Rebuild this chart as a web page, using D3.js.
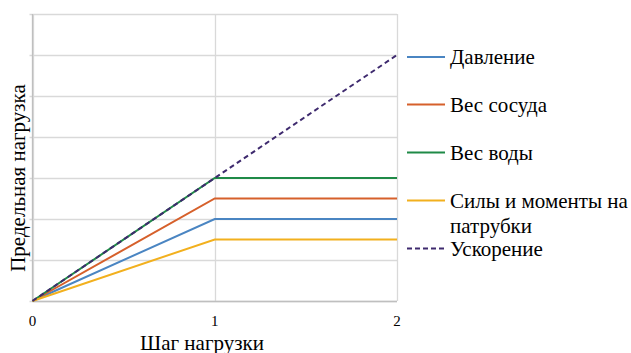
<!DOCTYPE html>
<html><head><meta charset="utf-8">
<script src="https://cdn.jsdelivr.net/npm/d3@7"></script>
<style>body{margin:0;background:#fff}svg{display:block}</style>
</head><body>
<svg id="c" width="631" height="353"></svg>
<script>
const steps = [0, 1, 2];
const xTicks = ["0", "1", "2"];
const seriesNames = ["Давление", "Вес сосуда", "Вес воды", "Силы и моменты на патрубки", "Ускорение"];
const pressure = [0, 2, 2];
const vesselWeight = [0, 2.5, 2.5];
const waterWeight = [0, 3, 3];
const nozzleLoads = [0, 1.5, 1.5];
const acceleration = [0, 3, 6];
const colors = ["#4a85c2", "#d6602b", "#1f8a47", "#f2b01e", "#3e2a6e"];
const yGrid = [0, 1, 2, 3, 4, 5, 6, 7];

const series = [pressure, vesselWeight, waterWeight, nozzleLoads, acceleration];
const svg = d3.select("#c");
const m = {l: 32.5, r: 397, t: 14, b: 301};
const x = d3.scaleLinear().domain([0, 2]).range([m.l, m.r]);
const y = d3.scaleLinear().domain([0, 7]).range([m.b, m.t]);
const font = "Liberation Serif, DejaVu Serif, serif";

// grid
svg.append("g").selectAll("line").data(yGrid).join("line")
  .attr("x1", m.l - 3).attr("x2", m.r).attr("y1", d => Math.round(y(d)) + 0.5).attr("y2", d => Math.round(y(d)) + 0.5)
  .attr("stroke", "#d9d9d9").attr("stroke-width", 1.3);
svg.append("g").selectAll("line").data(steps).join("line")
  .attr("x1", d => Math.round(x(d)) + 0.5).attr("x2", d => Math.round(x(d)) + 0.5).attr("y1", m.t).attr("y2", m.b)
  .attr("stroke", "#d9d9d9").attr("stroke-width", 1.3);
// axes
svg.append("line").attr("x1", m.l).attr("x2", m.l).attr("y1", m.t).attr("y2", m.b).attr("stroke", "#bfbfbf").attr("stroke-width", 1.3);
svg.append("line").attr("x1", m.l).attr("x2", m.r).attr("y1", m.b + 0.5).attr("y2", m.b + 0.5).attr("stroke", "#bfbfbf").attr("stroke-width", 1.3);

// tick labels
svg.append("g").selectAll("text").data(steps).join("text")
  .attr("x", d => x(d)).attr("y", 326).attr("text-anchor", "middle")
  .style("font-family", font).attr("font-size", 15).attr("fill", "#000")
  .text((d, i) => xTicks[i]);

// titles
svg.append("text").attr("x", 202).attr("y", 350).attr("text-anchor", "middle")
  .style("font-family", font).attr("font-size", 21).text("Шаг нагрузки");
svg.append("text").attr("transform", "translate(25,178) rotate(-90)").attr("text-anchor", "middle")
  .style("font-family", font).attr("font-size", 21).text("Предельная нагрузка");

// lines
const line = d3.line().x((d, i) => x(steps[i])).y(d => y(d));
series.forEach((s, k) => {
  svg.append("path").datum(s).attr("d", line)
    .attr("fill", "none").attr("stroke", colors[k]).attr("stroke-width", 2)
    .attr("stroke-dasharray", k === 4 ? "5,3.5" : null);
});

// legend
const legY = [57, 104.5, 152.5, 200.5, 248.5];
seriesNames.forEach((n, k) => {
  svg.append("line").attr("x1", 407).attr("x2", 445).attr("y1", legY[k]).attr("y2", legY[k])
    .attr("stroke", colors[k]).attr("stroke-width", 2).attr("stroke-dasharray", k === 4 ? "5,3" : null);
  const t = svg.append("text").attr("x", 450).attr("y", legY[k] + 7)
    .style("font-family", font).attr("font-size", 21).attr("fill", "#000");
  if (k === 3) {
    t.append("tspan").attr("x", 450).text("Силы и моменты на");
    t.append("tspan").attr("x", 450).attr("dy", 25).text("патрубки");
  } else t.text(n);
});
</script>
</body></html>
